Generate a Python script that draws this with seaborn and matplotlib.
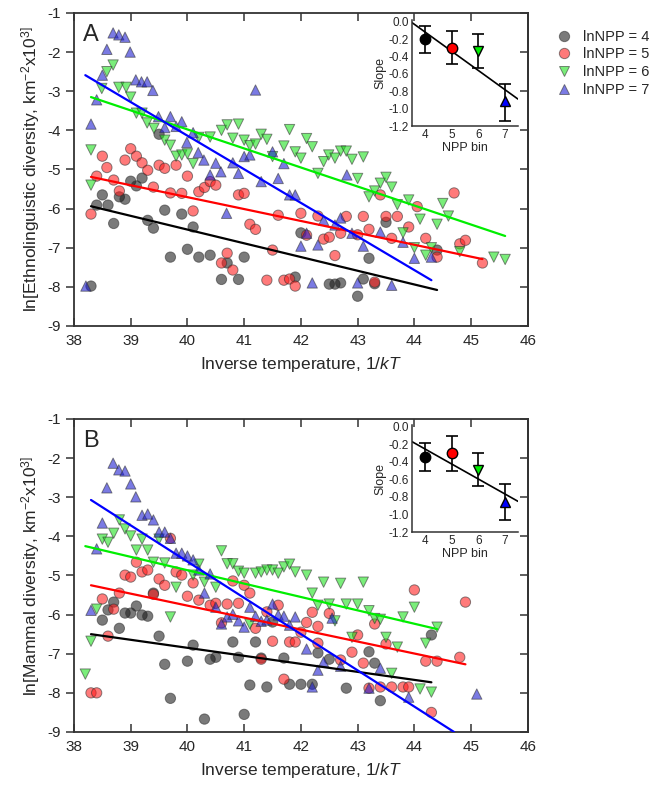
import matplotlib
matplotlib.use('Agg')
import numpy as np
import pandas as pd
import seaborn as sns
import matplotlib.pyplot as plt

# ---------------------------------------------------------------------------
# Data (x = inverse temperature 1/kT, y = ln diversity)
groups = [4, 5, 6, 7]

# Panel A : ethnolinguistic diversity
a4_x = [39.5, 39.2, 39.0, 39.1, 38.5, 38.4, 38.6, 38.8, 38.9, 38.7, 38.3, 39.3, 39.4, 39.6, 39.9, 40.1,
        39.7, 40.0, 40.2, 40.4, 40.6, 40.7, 40.9, 41.0, 41.9, 42.0, 42.5, 42.6, 42.7, 43.1, 43.0, 43.2,
        43.5, 44.4, 43.3]
a4_y = [-4.10, -5.22, -5.30, -5.42, -5.65, -5.91, -5.91, -5.70, -5.76, -6.38, -7.98, -6.30, -6.50, -6.04,
        -6.14, -6.47, -7.24, -7.04, -7.24, -7.19, -7.81, -7.39, -7.81, -7.24, -7.75, -6.62, -7.93, -7.93,
        -7.90, -7.80, -8.24, -7.27, -6.35, -7.06, -7.92]

a5_x = [38.5, 38.58, 38.4, 38.7, 38.8, 38.9, 39.0, 39.1, 39.2, 39.3, 39.4, 39.5, 39.6, 39.8, 40.0,
        38.3, 39.7, 39.9, 40.2, 40.3, 40.4, 40.5, 40.9, 41.0, 40.1, 41.1, 41.2, 40.7, 40.6, 40.8, 41.5,
        41.6, 41.4, 41.7, 41.8, 41.9, 42.0, 42.1, 42.3, 42.4, 42.5, 42.8, 42.7, 43.0, 43.1, 43.2, 43.5,
        43.6, 43.7, 43.9, 44.05, 42.6, 43.3, 44.7, 44.2, 44.4, 44.8, 44.9, 45.2, 43.4]
a5_y = [-4.66, -4.95, -5.17, -5.27, -5.55, -4.76, -4.47, -4.66, -4.83, -5.02, -5.45, -4.89, -4.97, -4.89,
        -5.17, -6.14, -5.60, -5.61, -5.57, -5.46, -5.31, -5.40, -5.65, -5.61, -6.06, -6.40, -6.53, -7.14,
        -7.39, -7.57, -7.06, -6.17, -7.83, -7.83, -7.80, -7.98, -6.12, -6.68, -6.19, -6.78, -6.73, -6.20,
        -6.63, -6.67, -6.20, -6.53, -6.20, -6.76, -6.20, -6.47, -5.95, -7.20, -7.88, -5.60, -6.76, -7.24,
        -6.90, -6.81, -7.39, -5.65]

a6_x = [38.69, 38.58, 38.49, 38.79, 38.92, 39.0, 39.1, 39.2, 39.29, 39.41, 39.6, 39.7, 39.8, 39.9, 40.0,
        40.1, 40.2, 40.4, 40.6, 40.7, 40.9, 41.0, 41.1, 41.2, 41.3, 41.4, 41.5, 41.7, 41.8, 41.9, 42.0,
        42.1, 42.2, 42.3, 42.4, 38.3, 38.3, 40.8, 42.49, 42.6, 42.7, 42.8, 42.9, 43.1, 43.2, 43.3, 43.4,
        43.5, 43.6, 43.9, 43.0, 43.7, 44.1, 44.5, 44.6, 44.4, 43.8, 44.0, 44.2, 44.3, 44.8, 45.4, 45.6]
a6_y = [-2.33, -2.50, -2.93, -2.90, -2.90, -3.15, -3.56, -3.56, -3.81, -3.95, -4.25, -4.38, -4.66, -4.63,
        -4.60, -4.85, -4.18, -4.17, -4.00, -3.86, -3.84, -4.25, -4.39, -4.35, -4.10, -4.23, -4.67, -4.40,
        -3.98, -4.55, -4.71, -4.21, -4.42, -5.10, -4.80, -4.50, -5.40, -4.20, -4.63, -4.71, -4.53, -4.53,
        -4.74, -4.68, -5.70, -5.55, -5.35, -5.20, -5.45, -5.78, -5.23, -5.90, -6.27, -5.87, -6.19, -6.40,
        -6.62, -7.00, -7.19, -7.00, -7.10, -7.24, -7.30]

a7_x = [38.69, 38.79, 38.9, 38.58, 38.99, 38.5, 38.4, 38.3, 39.09, 39.19, 39.29, 39.39, 41.2, 39.49,
        39.7, 39.9, 39.6, 39.8, 40.1, 39.99, 40.19, 40.29, 40.5, 40.59, 40.4, 40.9, 41.0, 41.1, 41.5,
        41.7, 41.6, 41.3, 41.8, 41.9, 40.8, 42.81, 40.69, 42.1, 42.0, 42.3, 42.4, 42.6, 42.7, 42.9, 43.1,
        43.4, 43.8, 44.0, 42.2, 43.0, 43.6, 44.3, 38.21]
a7_y = [-1.51, -1.56, -1.62, -1.93, -2.00, -2.59, -3.22, -3.84, -2.71, -2.76, -2.76, -2.98, -2.97, -3.65,
        -3.65, -3.78, -3.93, -3.90, -4.06, -4.31, -4.57, -4.76, -4.84, -5.06, -5.14, -5.10, -4.67, -4.63,
        -4.55, -4.85, -5.23, -5.31, -5.65, -5.65, -4.83, -5.14, -6.12, -6.63, -6.96, -6.93, -6.30, -6.42,
        -6.24, -6.63, -6.96, -6.60, -6.86, -7.27, -7.90, -7.90, -7.96, -7.24, -7.98]

# Panel B : mammal diversity
b4_x = [38.5, 38.6, 38.7, 38.8, 38.9, 39.0, 39.1, 39.2, 39.3, 39.4, 39.5, 39.6, 39.7, 40.0, 40.1, 40.3,
        40.4, 40.5, 40.8, 40.9, 41.0, 41.1, 41.2, 41.3, 41.4, 41.7, 41.8, 42.0, 42.2, 42.3, 42.5, 42.8,
        43.2, 43.3, 43.4, 41.5, 44.3]
b4_y = [-6.14, -5.88, -5.68, -6.35, -5.96, -5.96, -5.78, -6.01, -6.04, -5.45, -6.55, -7.27, -8.14, -7.19,
        -6.78, -8.67, -7.14, -7.09, -6.70, -7.09, -8.55, -7.80, -6.70, -7.11, -7.85, -7.11, -7.78, -7.78,
        -7.78, -6.98, -7.14, -7.88, -6.95, -7.24, -8.20, -6.19, -6.52]

b5_x = [39.7, 39.1, 38.9, 39.0, 39.2, 39.3, 39.5, 39.6, 39.8, 39.9, 40.1, 40.8, 41.0, 38.3, 38.4, 38.5,
        38.6, 38.7, 38.8, 39.4, 40.0, 40.2, 40.4, 40.5, 40.6, 40.7, 40.9, 41.1, 41.2, 41.3, 41.5, 41.6,
        41.7, 41.8, 41.9, 42.0, 42.2, 42.1, 42.3, 42.5, 42.3, 41.4, 42.7, 42.9, 43.0, 43.1, 43.2, 43.4,
        43.6, 43.8, 43.9, 43.3, 43.5, 44.0, 44.9, 44.2, 44.4, 44.8, 44.3]
b5_y = [-4.05, -4.66, -4.99, -5.04, -4.91, -4.86, -5.09, -5.25, -4.91, -4.99, -5.19, -5.14, -5.25, -8.00,
        -8.00, -5.60, -6.55, -5.86, -5.45, -5.48, -5.53, -5.63, -5.76, -5.71, -6.21, -5.73, -5.71, -5.45,
        -6.35, -7.14, -6.68, -5.76, -7.65, -6.70, -6.70, -6.45, -5.94, -6.20, -6.30, -5.97, -6.73, -5.93,
        -7.16, -6.96, -6.52, -7.24, -7.88, -7.85, -7.85, -7.85, -7.85, -6.24, -6.75, -5.37, -5.68, -7.19,
        -7.19, -7.09, -8.50]

b6_x = [38.8, 38.7, 38.5, 38.6, 38.9, 39.0, 39.2, 39.1, 39.3, 39.5, 39.4, 39.6, 39.8, 40.1, 40.2, 40.3,
        40.6, 40.7, 40.8, 40.9, 41.0, 41.2, 41.3, 41.4, 41.5, 41.6, 41.7, 41.8, 41.9, 42.1, 42.4, 42.7,
        43.1, 42.2, 40.5, 39.7, 42.3, 42.5, 42.8, 43.0, 43.2, 43.3, 43.8, 42.6, 41.1, 42.9, 43.7, 43.6,
        44.1, 38.4, 38.3, 38.2, 44.0, 44.4, 43.5, 44.2, 44.3, 43.4]
b6_y = [-3.58, -3.92, -4.07, -4.15, -3.81, -3.99, -4.07, -4.35, -4.35, -4.07, -4.66, -4.68, -5.30, -4.99,
        -4.71, -5.17, -4.37, -4.70, -4.70, -4.89, -4.94, -4.94, -4.91, -4.86, -4.86, -4.94, -4.78, -4.71,
        -4.91, -4.99, -5.17, -5.20, -5.17, -5.45, -5.30, -6.06, -5.76, -5.73, -5.73, -5.73, -5.90, -6.10,
        -6.06, -6.16, -6.24, -6.58, -6.83, -7.50, -7.90, -5.86, -6.68, -7.52, -5.81, -6.32, -6.58, -6.73,
        -7.98, -6.12]

b7_x = [38.69, 38.79, 38.9, 38.58, 39.0, 39.09, 39.2, 39.3, 39.4, 39.5, 39.6, 38.5, 38.4, 39.7, 39.8,
        39.9, 40.0, 40.1, 40.4, 40.2, 40.3, 40.5, 40.7, 40.8, 40.6, 40.9, 41.0, 41.1, 41.2, 41.3, 41.4,
        41.5, 41.6, 41.7, 41.8, 41.9, 42.1, 42.4, 42.3, 42.2, 42.7, 43.2, 43.4, 43.9, 38.3, 42.55, 45.1]
b7_y = [-2.13, -2.30, -2.33, -2.76, -2.66, -2.99, -3.46, -3.43, -3.58, -3.89, -3.89, -3.66, -4.32, -4.05,
        -4.43, -4.43, -4.50, -4.60, -4.96, -4.86, -5.45, -5.81, -6.06, -5.99, -6.24, -6.16, -6.32, -5.81,
        -6.04, -6.17, -6.14, -5.73, -6.01, -6.04, -6.27, -6.06, -6.88, -7.21, -7.42, -7.85, -7.32, -7.88,
        -7.37, -8.11, -5.89, -6.09, -8.03]

# fitted lines (start / end) for groups 4, 5, 6, 7
fit_a_x0 = [38.3, 38.3, 38.3, 38.2]
fit_a_x1 = [44.4, 45.2, 45.6, 44.3]
fit_a_y0 = [-5.94, -5.19, -3.15, -2.59]
fit_a_y1 = [-8.08, -7.29, -6.70, -7.83]
fit_b_x0 = [38.3, 38.3, 38.2, 38.3]
fit_b_x1 = [44.3, 44.9, 44.4, 44.7]
fit_b_y0 = [-6.50, -5.25, -4.25, -3.07]
fit_b_y1 = [-7.73, -7.27, -6.37, -9.00]

# insets: slope vs NPP bin
npp_bin = [4, 5, 6, 7]
slope_a = [-0.20, -0.30, -0.34, -0.91]
slope_a_lo = [-0.36, -0.49, -0.53, -1.14]
slope_a_hi = [-0.05, -0.11, -0.14, -0.72]
slope_b = [-0.35, -0.30, -0.49, -0.86]
slope_b_lo = [-0.51, -0.50, -0.67, -1.06]
slope_b_hi = [-0.19, -0.11, -0.30, -0.65]
slope_ticks = [-1.2, -1.0, -0.8, -0.6, -0.4, -0.2, 0.0]
inset_line_x = [3.5, 7.5]
inset_a_line_y = [-0.01, -0.89]
inset_b_line_y = [-0.17, -0.85]

# ---------------------------------------------------------------------------
sns.set_style('white')
plt.rcParams['font.family'] = ['Liberation Sans', 'DejaVu Sans']
plt.rcParams['axes.unicode_minus'] = False
plt.rcParams['mathtext.fontset'] = 'custom'
plt.rcParams['mathtext.rm'] = 'Liberation Sans'
plt.rcParams['mathtext.it'] = 'Liberation Sans:italic'
plt.rcParams['mathtext.default'] = 'regular'

labels = {g: f'lnNPP = {g}' for g in groups}
palette = {labels[4]: '#1a1a1a', labels[5]: '#ff1a1a', labels[6]: '#1ae01a', labels[7]: '#1a1ad0'}
markers = {labels[4]: 'o', labels[5]: 'o', labels[6]: 'v', labels[7]: '^'}
line_cols = ['black', 'red', '#00ee00', 'blue']
inset_cols = ['black', 'red', '#00ee00', 'blue']
inset_marks = ['o', 'o', 'v', '^']


def make_df(xs, ys):
    parts = []
    for g, x, y in zip(groups, xs, ys):
        parts.append(pd.DataFrame({'x': x, 'y': y, 'group': labels[g]}))
    return pd.concat(parts, ignore_index=True)


df_a = make_df([a4_x, a5_x, a6_x, a7_x], [a4_y, a5_y, a6_y, a7_y])
df_b = make_df([b4_x, b5_x, b6_x, b7_x], [b4_y, b5_y, b6_y, b7_y])

fig = plt.figure(figsize=(6.54, 7.91), dpi=100)
ax_a = fig.add_axes([0.1131, 0.5879, 0.694, 0.3957])
ax_b = fig.add_axes([0.1131, 0.0746, 0.694, 0.3957])


def main_panel(ax, df, fx0, fx1, fy0, fy1, ylabel, letter, legend):
    sns.scatterplot(data=df, x='x', y='y', hue='group', style='group', palette=palette,
                    markers=markers, s=55, alpha=0.58, edgecolor='#333333', linewidth=0.7,
                    legend=legend, ax=ax, zorder=2)
    for i in range(4):
        sns.lineplot(x=[fx0[i], fx1[i]], y=[fy0[i], fy1[i]], color=line_cols[i], lw=1.6,
                     ax=ax, zorder=3)
    ax.set_xlim(38, 46)
    ax.set_ylim(-9, -1)
    ax.set_xticks(range(38, 47))
    ax.set_yticks(range(-9, 0))
    ax.set_xlabel(r'Inverse temperature, 1/$\mathit{kT}$', fontsize=12.5, labelpad=5)
    ax.set_ylabel(ylabel, fontsize=12.5, labelpad=4)
    ax.tick_params(axis='x', direction='in', top=True, bottom=True, length=6, width=1.1,
                   labelsize=11, pad=6, color='#333333')
    ax.tick_params(axis='y', direction='out', left=True, length=6, width=1.1,
                   labelsize=11, color='#333333')
    sec = ax.secondary_yaxis('right')
    sec.set_yticks(range(-9, 0))
    sec.tick_params(direction='in', length=6, width=1.1, labelright=False, color='#333333')
    sec.spines['right'].set_color('#333333')
    sec.spines['right'].set_linewidth(1.3)
    for sp in ax.spines.values():
        sp.set_color('#333333')
        sp.set_linewidth(1.3)
    ax.text(0.02, 0.965, letter, transform=ax.transAxes, fontsize=17, va='top', ha='left')


main_panel(ax_a, df_a, fit_a_x0, fit_a_x1, fit_a_y0, fit_a_y1,
           r'ln[Ethnolinguistic diversity, km$^{-2}$x10$^{3]}$', 'A', True)
main_panel(ax_b, df_b, fit_b_x0, fit_b_x1, fit_b_y0, fit_b_y1,
           r'ln[Mammal diversity, km$^{-2}$x10$^{3]}$', 'B', False)

sns.move_legend(ax_a, 'upper left', bbox_to_anchor=(1.045, 0.965), frameon=False, title=None,
                fontsize=10.5, handletextpad=0.6, labelspacing=0.25, borderaxespad=0,
                handlelength=1.4, markerscale=1.0)


def inset(rect, slope, lo, hi, line_y):
    ins = fig.add_axes(rect)
    ins.patch.set_alpha(0)
    sns.lineplot(x=inset_line_x, y=line_y, color='black', lw=1.2, ax=ins)
    for i in range(4):
        ins.errorbar(npp_bin[i], slope[i], yerr=[[slope[i] - lo[i]], [hi[i] - slope[i]]],
                     fmt=inset_marks[i], color='black', mfc=inset_cols[i], mec='black',
                     ms=7.5, capsize=4, elinewidth=1.2, capthick=1.2, zorder=3)
    ins.set_xlim(3.5, 7.5)
    ins.set_ylim(-1.2, 0.02)
    ins.set_xticks(npp_bin)
    ins.set_yticks(slope_ticks)
    ins.set_yticklabels([f'{t:.1f}' for t in slope_ticks])
    ins.set_xlabel('NPP bin', fontsize=9, labelpad=1)
    ins.set_ylabel('Slope', fontsize=9, labelpad=2)
    ins.tick_params(direction='in', length=3, labelsize=8.5, pad=2)
    sns.despine(ax=ins)
    for sp in ['left', 'bottom']:
        ins.spines[sp].set_linewidth(1.1)
        ins.spines[sp].set_color('#333333')
    return ins


inset([0.630, 0.8407, 0.162, 0.134], slope_a, slope_a_lo, slope_a_hi, inset_a_line_y)
inset([0.630, 0.3274, 0.162, 0.1353], slope_b, slope_b_lo, slope_b_hi, inset_b_line_y)

fig.savefig('out.png', dpi=100)
